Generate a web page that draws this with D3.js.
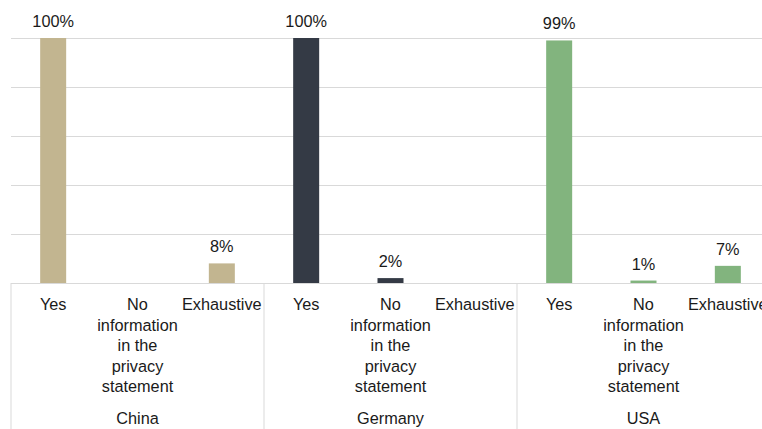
<!DOCTYPE html>
<html>
<head>
<meta charset="utf-8">
<script src="https://cdn.jsdelivr.net/npm/d3@7"></script>
<style>
  html, body { margin: 0; padding: 0; background: #fff; }
  svg { display: block; }
  text { font-family: "Liberation Sans", Arial, sans-serif; fill: #1a1a1a; }
</style>
</head>
<body>
<svg id="chart" width="762" height="429"></svg>
<script>
// Countries (outer groups) and answer categories (inner bars)
const countries = ["China", "Germany", "USA"];
const answers = ["Yes", "No information in the privacy statement", "Exhaustive"];

// Share of respondents per answer, in percent
const chinaValues = [100, 0, 8];
const germanyValues = [100, 2, 0];
const usaValues = [99, 1, 7];

const yTicks = [0, 20, 40, 60, 80, 100];
const countryColors = ["#c2b590", "#343a45", "#82b47e"];

const seriesByCountry = [chinaValues, germanyValues, usaValues];

const svg = d3.select("#chart");
const W = 762, H = 429;
const left = 11, groupWidth = 253;
const plotTop = 38, plotBottom = 283;
const fontSize = 16.3;

const x0 = d3.scaleBand()
  .domain(countries)
  .range([left, left + groupWidth * countries.length])
  .padding(0);

const innerPad = 1 - 26 / (groupWidth / answers.length);
const x1 = d3.scaleBand()
  .domain(answers)
  .range([0, groupWidth])
  .paddingInner(innerPad)
  .paddingOuter(innerPad / 2);

const y = d3.scaleLinear().domain([0, 100]).range([plotBottom, plotTop]);
const color = d3.scaleOrdinal().domain(countries).range(countryColors);

// Horizontal gridlines (no tick labels)
const grid = d3.axisLeft(y).tickValues(yTicks).tickSize(-(W - left + 20)).tickFormat("");
svg.append("g")
  .attr("transform", `translate(${left},0)`)
  .call(grid)
  .call(g => g.select(".domain").remove())
  .call(g => g.selectAll(".tick line").attr("stroke", "#d9d9d9").attr("stroke-width", 1));

// Category separators below the baseline
svg.append("g")
  .selectAll("line")
  .data(countries.concat(["__end"]))
  .join("line")
  .attr("x1", (d, i) => i < countries.length ? x0(d) : x0.range()[1])
  .attr("x2", (d, i) => i < countries.length ? x0(d) : x0.range()[1])
  .attr("y1", plotBottom)
  .attr("y2", H)
  .attr("stroke", "#d9d9d9")
  .attr("stroke-width", 1);

// Flatten data into one record per bar
const records = [];
countries.forEach((c, ci) => {
  answers.forEach((a, ai) => {
    records.push({ country: c, answer: a, value: seriesByCountry[ci][ai] });
  });
});

const groups = svg.append("g")
  .selectAll("g")
  .data(countries)
  .join("g")
  .attr("transform", d => `translate(${x0(d)},0)`);

groups.selectAll("rect")
  .data(c => records.filter(r => r.country === c && r.value > 0))
  .join("rect")
  .attr("x", d => x1(d.answer))
  .attr("width", x1.bandwidth())
  .attr("y", d => y(d.value))
  .attr("height", d => y(0) - y(d.value))
  .attr("fill", d => color(d.country));

// Value labels above bars
groups.selectAll("text.value")
  .data(c => records.filter(r => r.country === c && r.value > 0))
  .join("text")
  .attr("class", "value")
  .attr("x", d => x1(d.answer) + x1.bandwidth() / 2)
  .attr("y", d => y(d.value) - 11)
  .attr("text-anchor", "middle")
  .attr("font-size", fontSize)
  .text(d => d.value + "%");

// Answer labels, wrapped to the width of each answer slot
const slot = groupWidth / answers.length;
const lineStep = 20.6;
function wrap(textSel, maxWidth) {
  textSel.each(function(label) {
    const t = d3.select(this);
    const words = label.split(/\s+/);
    const x = t.attr("x");
    let line = [];
    let lineNo = 0;
    let tspan = t.text(null).append("tspan").attr("x", x).attr("dy", 0);
    words.forEach(w => {
      line.push(w);
      tspan.text(line.join(" "));
      if (tspan.node().getComputedTextLength() > maxWidth && line.length > 1) {
        line.pop();
        tspan.text(line.join(" "));
        line = [w];
        lineNo++;
        tspan = t.append("tspan").attr("x", x).attr("dy", lineStep).text(w);
      }
    });
  });
}

groups.selectAll("text.answer")
  .data(answers)
  .join("text")
  .attr("class", "answer")
  .attr("x", d => x1(d) + x1.bandwidth() / 2)
  .attr("y", 310)
  .attr("text-anchor", "middle")
  .attr("font-size", fontSize)
  .text(d => d)
  .call(wrap, slot);

// Country labels
groups.append("text")
  .attr("x", groupWidth / 2)
  .attr("y", 423.5)
  .attr("text-anchor", "middle")
  .attr("font-size", fontSize)
  .text(d => d);
</script>
</body>
</html>
